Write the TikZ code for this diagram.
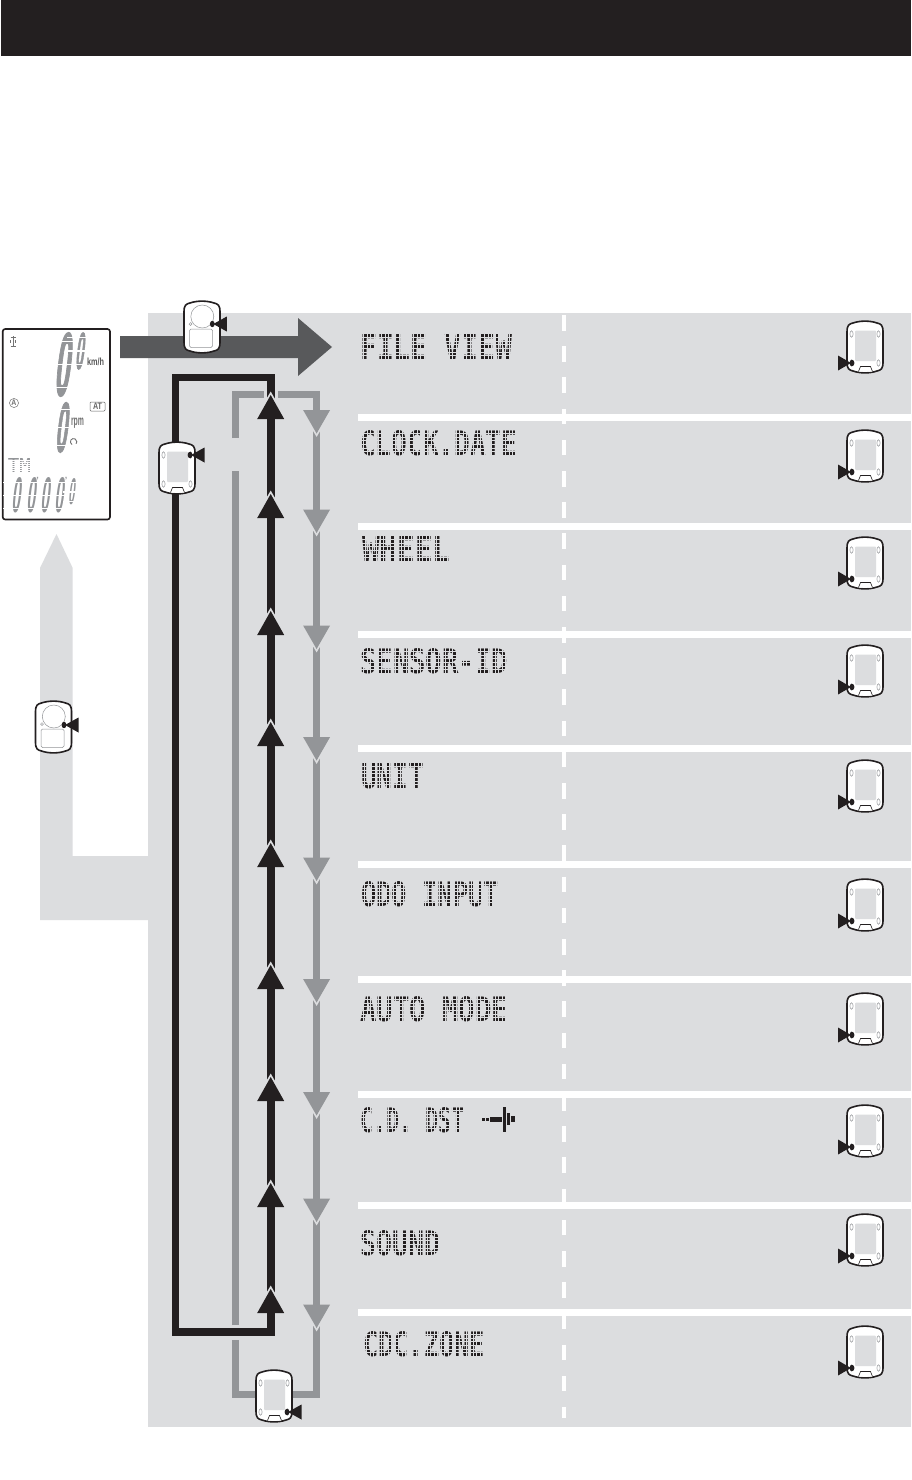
\documentclass[tikz,border=0pt]{standalone}
\usepackage{fontspec}
\setmainfont{Liberation Sans}
\setmonofont{DejaVu Sans Mono}
\newfontfamily\lcdfont[UprightFont=* Bold,FakeBold=2.5]{Liberation Sans}
\newfontfamily\lcdsmall[UprightFont=* Bold]{Liberation Sans}
\usepackage{graphicx}
\definecolor{ink}{HTML}{231F20}
\definecolor{panel}{HTML}{DCDDDF}
\definecolor{midgray}{HTML}{939598}
\definecolor{darkarrow}{HTML}{58595B}
\definecolor{lcdgray}{HTML}{939598}
\tikzset{
  blackline/.style={draw=ink,line width=7.5pt,miter limit=10},
  grayline/.style={draw=midgray,line width=7pt},
  devbody/.style={draw=ink,line width=1.6pt,fill=white},
  thinpart/.style={draw=midgray,line width=.5pt},
  halo/.style={draw=panel,line width=3.5pt,miter limit=10},
  lcdtext/.style={inner sep=0pt,text=lcdgray,font=\bfseries},
  outl/.pic={
    \path[devbody] (-18,-15) .. controls (-18,-22) and (-16,-23) .. (-12,-24)
      .. controls (-5,-26.5) and (5,-26.5) .. (12,-24)
      .. controls (16,-23) and (18,-22) .. (18,-15) -- (18,15)
      .. controls (18,22) and (16,23) .. (12,24)
      .. controls (5,26.5) and (-5,26.5) .. (-12,24)
      .. controls (-16,23) and (-18,22) .. (-18,15) -- cycle;
  },
  devA/.pic={
    \pic {outl};
    \draw[thinpart] (0.3,-10.5) circle (11.5);
    \draw[thinpart,rounded corners=1.5pt] (-12.5,2) rectangle (10.5,20.5);
    \draw[thinpart] (-11.5,-3) circle (1.4);
  },
  devB/.pic={
    \pic {outl};
    \fill[panel,rounded corners=1pt] (-10,-16.5) rectangle (11,14);
    \foreach \hx/\hy in {-13.5/-13,13.5/-13,-13.5/16,13.5/16}
      \draw[thinpart] (\hx,\hy) ellipse (1.6 and 3.2);
    \draw[draw=ink,line width=.6pt,fill=white] (-6.5,24.5) -- (-4.5,19.5) -- (5.5,19.5) -- (7.5,24.5);
  },
  uphead/.pic={
    \path[halo] (-14,24) -- (0,0) -- (14,24);
    \fill[ink] (-13.5,24) -- (0,0) -- (13.5,24) -- cycle;
  },
  downhead/.pic={
    \path[halo] (-14,-23.5) -- (0,0) -- (14,-23.5);
    \fill[midgray] (-13.5,-23.5) -- (0,0) -- (13.5,-23.5) -- cycle;
  },
}
\newcommand{\tipfromleft}[2]{%
  \fill[ink] (#1-14,#2-7.5) -- (#1-1,#2) -- (#1-14,#2+7.5) -- cycle;
  \fill[ink] (#1,#2) ellipse (2.4 and 3.2);}
\newcommand{\tipfromright}[2]{%
  \fill[ink] (#1+14.5,#2-7.5) -- (#1+1,#2) -- (#1+14.5,#2+7.5) -- cycle;
  \fill[ink] (#1,#2) ellipse (2.4 and 3.2);}
\newcommand{\lab}[6]{%
  \node[anchor=north west,inner sep=0pt,text=ink] (#1) at (#2,#3)
    {\resizebox{#4pt}{#5pt}{\ttfamily\bfseries #6}};
  \begin{scope}
    \clip (#2-1,#3-1) rectangle (#2+#4+1,#3+#5+1);
    \foreach \k in {1,...,6}
      \draw[panel,line width=.7pt] (#2-1,#3+\k*#5/7) -- (#2+#4+1,#3+\k*#5/7);
    \pgfmathsetmacro{\nc}{int(#4/3.55)}
    \foreach \k in {1,...,\nc}
      \draw[panel,line width=.45pt] (#2+\k*3.55,#3-1) -- (#2+\k*3.55,#3+#5+1);
  \end{scope}}
% LCD zero: font, name, cx, cy, width, height
\newcommand{\lcdzero}[6]{%
  \node[inner sep=0pt,text=lcdgray,xslant=.12,transform shape] (#2) at (#3,#4) {\resizebox{#5pt}{#6pt}{#1 0}};
  \draw[white,line width=1.1pt] (#3-#5,#4) -- (#3+#5,#4);
  \draw[white,line width=.9pt] (#3-#5,#4-.37*#6) -- (#3+#5,#4-.37*#6);
  \draw[white,line width=.9pt] (#3-#5,#4+.37*#6) -- (#3+#5,#4+.37*#6);}
\begin{document}
\begin{tikzpicture}[x=1pt,y=-1pt]
\useasboundingbox (0,0) rectangle (911,1480);
\fill[white] (0,0) rectangle (911,1480);
\fill[ink] (1,0) rectangle (911,56);
\fill[panel] (148,313) rectangle (911,1427);
\foreach \sy/\sh in {414/7,523/7,631/7,745/7,861/7,976/7,1091/7,1202/7,1309/7}
  \fill[white] (358,\sy) rectangle (911,\sy+\sh);
\coordinate (divtop) at (564,315);
\coordinate (divbot) at (564,1418);
\draw[white,line width=4pt,dash pattern=on 15.6pt off 15.6pt] (divtop) -- (divbot);
\fill[panel] (148,856) -- (72.7,856) -- (72.7,568) -- (56.5,534) -- (40,568) -- (40,920) -- (148,920) -- cycle;
\fill[darkarrow] (120,336) -- (298,336) -- (298,318) -- (332,347) -- (298,376) -- (298,358) -- (120,358) -- cycle;
\coordinate (bTL) at (175.5,377.5);
\coordinate (bTR) at (271,377.5);
\coordinate (bBL) at (175.5,1332);
\coordinate (bBR) at (271,1332);
\coordinate (gA) at (235,438);
\coordinate (gB) at (235,394.5);
\coordinate (gC) at (263.5,394.5);
\coordinate (gD) at (278,394.5);
\coordinate (gE) at (316.7,394.5);
\coordinate (gF) at (316.7,1394.5);
\coordinate (gG) at (235,1394.5);
\coordinate (gH) at (235,1340);
\coordinate (gI) at (235,1325);
\coordinate (gJ) at (235,471);
\draw[grayline] (gA) -- (gB) -- (gC);
\draw[grayline] (gD) -- (gE) -- (gF) -- (gG) -- (gH);
\draw[grayline] (gI) -- (gJ);
\draw[blackline] (bTR) -- (bTL) -- (bBL) -- (bBR) -- cycle;
\foreach \ay in {395,494,611,722,843,965,1077,1183,1289}
  \pic at (270.7,\ay) {uphead};
\foreach \ay in {433.5,533,649,760.5,881,1002.5,1115.5,1222,1328}
  \pic at (316.6,\ay) {downhead};
\pic at (202,327) {devA};
\tipfromright{212.3}{324}
\pic at (53.5,727) {devA};
\tipfromright{64}{725}
\pic at (177,468) {devB};
\tipfromright{190}{455}
\pic at (274,1396) {devB};
\tipfromright{287}{1412}
\foreach \ty in {363,472,579,687,802,921,1035,1147,1256,1368}{
  \pic at (865,\ty-16) {devB};
  \tipfromleft{852}{\ty}
}
\lab{l1}{360}{334}{152}{25}{FILE VIEW}
\lab{l2}{360}{430}{157}{25}{CLOCK.DATE}
\lab{l3}{362}{536}{88}{25}{WHEEL}
\lab{l4}{360}{648}{148}{25}{SENSOR-ID}
\lab{l5}{361}{763}{63}{25}{UNIT}
\lab{l6}{361}{881}{138}{25}{ODO INPUT}
\lab{l7}{360}{996}{148}{25}{AUTO MODE}
\lab{l8}{360}{1107}{104}{25}{C.D. DST}
\lab{l9}{360}{1230}{80}{25}{SOUND}
\lab{l10}{363}{1331}{122}{25}{CDC.ZONE}
\fill[ink] (482,1117.5) rectangle (485,1121);
\fill[ink] (486,1117.5) rectangle (489,1121);
\fill[ink] (490,1117) rectangle (502,1121.5);
\fill[ink] (503,1107) rectangle (505.5,1132);
\fill[ink] (507,1113) rectangle (510,1125);
\fill[ink] (511,1116) rectangle (514.5,1122);
\draw[draw=ink,line width=1.6pt,fill=white,rounded corners=2.5pt] (2.7,329) rectangle (110,519.5);
\lcdzero{\lcdfont}{d1}{61}{364.5}{22}{62}
\lcdzero{\lcdfont}{d2}{79}{351}{12}{36}
\lcdzero{\lcdfont}{d3}{60.5}{427.5}{17}{49}
\lcdzero{\lcdsmall}{d4}{16}{495.5}{13}{35}
\lcdzero{\lcdsmall}{d5}{30.5}{495.5}{13}{35}
\lcdzero{\lcdsmall}{d6}{45}{495.5}{13}{35}
\lcdzero{\lcdsmall}{d7}{59}{495.5}{13}{35}
\lcdzero{\lcdsmall}{d8}{72}{492}{9}{26}
\node[lcdtext,text=lcdgray,font=\small\bfseries] (tick1) at (37.5,480.5) {'};
\node[lcdtext,text=lcdgray,font=\small\bfseries] (tick2) at (66,480.5) {'};
\node[lcdtext,text=black!65] (kmh) at (95.5,362) {\resizebox{17pt}{7.5pt}{km/h}};
\node[lcdtext,text=black!55] (rpm) at (77.5,423.5) {\resizebox{13pt}{7.5pt}{rpm}};
\node[inner sep=0pt,text=lcdgray] (tm) at (19.5,465.5) {\resizebox{23pt}{14pt}{\ttfamily TM}};
\foreach \k in {1,...,6}
  \draw[white,line width=.5pt] (7,458.5+\k*2) -- (32,458.5+\k*2);
\node[draw=black!60,line width=.5pt,rounded corners=1pt,inner sep=1pt,minimum width=15pt,minimum height=9pt,text=black!60,font=\bfseries] (at) at (97.5,406.5) {\resizebox{9pt}{6.5pt}{AT}};
\node[circle,draw=black!55,line width=.5pt,inner sep=.6pt,text=black!55,font=\bfseries] (autoA) at (14,403) {\resizebox{5pt}{5.5pt}{A}};
\draw[black!55,line width=.9pt] (72,444.5) arc[start angle=120,end angle=400,radius=3.2];
\draw[black!55,line width=.6pt] (13,336) -- (13,347);
\draw[black!55,line width=.6pt] (10.5,337) -- (15.5,337) (10.5,346) -- (15.5,346) (10.5,340) -- (10.5,343) (15.5,340) -- (15.5,343);
\end{tikzpicture}
\end{document}
